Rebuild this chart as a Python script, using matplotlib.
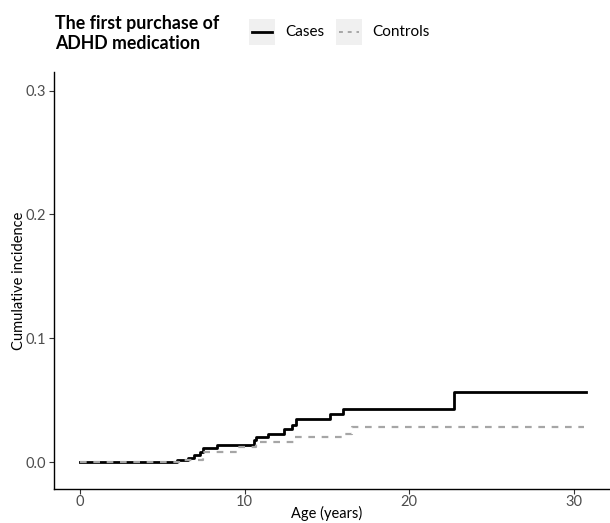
import matplotlib
matplotlib.use('Agg')
import matplotlib.pyplot as plt
from matplotlib.patches import Rectangle
from matplotlib.lines import Line2D

plt.rcParams['font.family'] = ['Lato', 'DejaVu Sans']

# step times (years) and cumulative incidence after each step
cases_t = [0.0, 5.9, 6.55, 6.9, 7.3, 7.5, 8.35, 10.58, 10.7, 11.4, 12.4, 12.87, 13.13, 15.2, 15.97, 22.74, 30.76]
cases_y = [0.0, 0.002, 0.0035, 0.0053, 0.008, 0.011, 0.0136, 0.0177, 0.0205, 0.023, 0.0265, 0.0302, 0.0345, 0.039, 0.043, 0.0566, 0.0566]

ctrl_t = [0.0, 6.0, 7.5, 9.6, 10.7, 13.0, 16.0, 16.5, 30.6]
ctrl_y = [0.0, 0.002, 0.008, 0.012, 0.016, 0.020, 0.023, 0.0285, 0.0285]

xticks = [0, 10, 20, 30]
yticks = [0.0, 0.1, 0.2, 0.3]

fig = plt.figure(figsize=(6.10, 5.23), dpi=100)
ax = fig.add_axes([54/610, 1 - 489/523, 1 - 54/610, (489 - 72)/523])

ax.step(cases_t, cases_y, where='post', color='black', lw=2.0)
ax.step(ctrl_t, ctrl_y, where='post', color='#a6a6a6', lw=1.6, ls=(0, (3, 3)))

ax.set_xlim(-1.58, 32.2)
ax.set_ylim(-0.0218, 0.315)
ax.set_xticks(xticks)
ax.set_yticks(yticks)
ax.set_xticklabels([str(v) for v in xticks])
ax.set_yticklabels(['%.1f' % v for v in yticks])
ax.tick_params(colors='#333333', labelcolor='#4d4d4d', labelsize=10.5, length=3.5, width=0.8, pad=2)
ax.tick_params(axis='x', pad=1)
for s in ['top', 'right']:
    ax.spines[s].set_visible(False)
for s in ['left', 'bottom']:
    ax.spines[s].set_linewidth(1.0)
ax.set_xlabel('Age (years)', fontsize=10.5, va='bottom')
ax.xaxis.set_label_coords(0.49, -32/417)
ax.set_ylabel('Cumulative incidence', fontsize=10.5, labelpad=0)

# legend drawn by hand, ggplot style
fig.text(55/610, 1 - 15/523, 'The first purchase of\nADHD medication',
         fontsize=12.8, fontweight='bold', va='top', ha='left', linespacing=1.2)
keys = [('Cases', 'black', 2.0, '-', 249, 285),
        ('Controls', '#a6a6a6', 1.4, (0, (2, 2.5)), 336, 372)]
for label, c, lw, ls, kx, tx in keys:
    fig.add_artist(Rectangle((kx/610, 1 - 45/523), 26/610, 26/523,
                             transform=fig.transFigure, color='#f0f0f0', lw=0))
    fig.add_artist(Line2D([(kx + 3)/610, (kx + 23)/610], [1 - 32/523, 1 - 32/523],
                          transform=fig.transFigure, color=c, lw=lw, ls=ls))
    fig.text(tx/610, 1 - 32/523, label, fontsize=11, va='center', ha='left')

fig.savefig('out.png', dpi=100)
